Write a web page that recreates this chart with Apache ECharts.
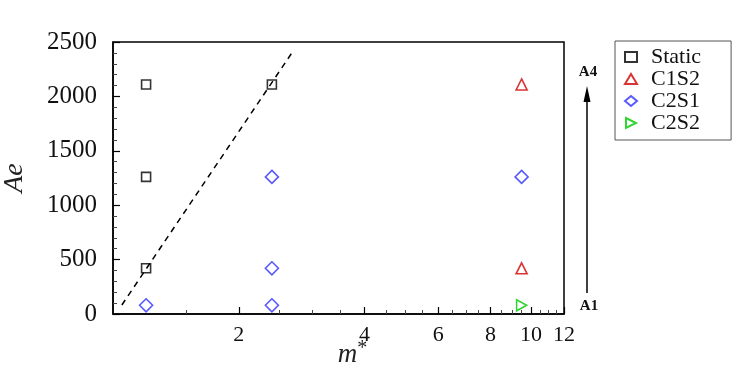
<!DOCTYPE html>
<html>
<head>
<meta charset="utf-8">
<script src="https://cdn.jsdelivr.net/npm/echarts@6/dist/echarts.min.js"></script>
<style>
html, body { margin: 0; padding: 0; background: #fff; }
#chart { width: 747px; height: 375px; }
</style>
</head>
<body>
<div id="chart"></div>
<script>
// model labels drawn above the plot, at their m* value
const models = ['M3', 'M4', 'M6']
const modelX = [1.2, 2.4, 9.5]

// (m*, Ae) points per response type
const staticPts = [[1.2, 2110], [1.2, 1260], [1.2, 420], [2.4, 2110]]
const c1s2Pts = [[9.5, 2110], [9.5, 420]]
const c2s1Pts = [[1.2, 80], [2.4, 1260], [2.4, 420], [2.4, 80], [9.5, 1260]]
const c2s2Pts = [[9.5, 80]]

// dashed DSS / DBS boundary
const boundary = [[1.05, 83], [2.69, 2410]]
const regionNames = ['DSS', 'DBS']
const regionPts = [[1.7, 1737], [5.44, 1737]]

// x axis ticks (log scale)
const xMajor = [2, 4, 6, 8, 10, 12]
const xMinor = [1.5, 2.5, 3, 3.5, 4.5, 5, 5.5, 6.5, 7, 7.5, 8.5, 9, 9.5, 10.5, 11, 11.5]

const FONT = 'Liberation Serif'
const chart = echarts.init(document.getElementById('chart'))

const hollow = (c) => ({ color: 'rgba(0,0,0,0)', borderColor: c, borderWidth: 1.6 })
// right-pointing triangle
const triRight = 'path://M0,0 L10,5 L0,10 Z'

const option = {
  animation: false,
  textStyle: { fontFamily: FONT },
  grid: {
    left: 113, top: 42, width: 451, height: 272,
    outerBoundsMode: 'none', containLabel: false,
    show: true, borderColor: '#000', borderWidth: 1.5, backgroundColor: 'transparent'
  },
  legend: {
    data: ['Static', 'C1S2', 'C2S1', 'C2S2'],
    orient: 'vertical',
    left: 615, top: 41,
    padding: [5, 30, 6, 9],
    itemGap: 0,
    itemWidth: 12, itemHeight: 10,
    borderColor: '#555', borderWidth: 1,
    textStyle: { fontFamily: FONT, fontSize: 22, color: '#111', lineHeight: 22, padding: [0, 0, 0, 9] }
  },
  xAxis: [
    {
      type: 'log', min: 1, max: 12,
      name: '{m|m}{s|*}',
      nameLocation: 'middle', nameGap: 25, nameMoveOverlap: false,
      nameTextStyle: {
        padding: [0, 0, 0, 28],
        rich: {
          m: { fontFamily: FONT, fontStyle: 'italic', fontSize: 27, color: '#222' },
          s: { fontFamily: FONT, fontSize: 20, color: '#222', padding: [0, 0, 12, 0] }
        }
      },
      axisLine: { lineStyle: { color: '#000', width: 1.5 } },
      axisTick: { customValues: xMajor, inside: true, length: 7, lineStyle: { color: '#000', width: 1.2 } },
      axisLabel: { customValues: xMajor, formatter: '{value}', fontSize: 22, color: '#111', margin: 10, fontFamily: FONT },
      minorTick: { show: false },
      splitLine: { show: false }
    },
    {
      type: 'log', min: 1, max: 12, position: 'bottom',
      axisLine: { show: false },
      axisLabel: { show: false },
      axisTick: { customValues: xMinor, inside: true, length: 4, lineStyle: { color: '#444', width: 1 } },
      minorTick: { show: false },
      splitLine: { show: false }
    }
  ],
  yAxis: {
    type: 'value', min: 0, max: 2500, interval: 500,
    name: 'Ae',
    nameLocation: 'middle', nameGap: 84, nameRotate: 90, nameMoveOverlap: false,
    nameTextStyle: { fontFamily: FONT, fontStyle: 'italic', fontSize: 28, color: '#222' },
    axisLine: { show: true, lineStyle: { color: '#000', width: 1.5 } },
    axisTick: { inside: true, length: 7, lineStyle: { color: '#000', width: 1.2 } },
    minorTick: { show: true, splitNumber: 5, length: 4, lineStyle: { color: '#444', width: 1 } },
    axisLabel: { fontSize: 25, color: '#111', margin: 16, fontFamily: FONT, formatter: v => String(v) },
    splitLine: { show: false }
  },
  series: [
    {
      name: 'boundary', type: 'line', data: boundary,
      symbol: 'none', silent: true,
      lineStyle: { color: '#000', width: 1.5, type: [6, 5] }
    },
    {
      name: 'Static', type: 'scatter', data: staticPts,
      symbol: 'rect', symbolSize: 9, itemStyle: hollow('#000')
    },
    {
      name: 'C1S2', type: 'scatter', data: c1s2Pts,
      symbol: 'triangle', symbolSize: 11, itemStyle: hollow('#d00000')
    },
    {
      name: 'C2S1', type: 'scatter', data: c2s1Pts,
      symbol: 'diamond', symbolSize: 13, itemStyle: hollow('#3030ff')
    },
    {
      name: 'C2S2', type: 'scatter', data: c2s2Pts,
      symbol: triRight, symbolSize: [10, 11], itemStyle: hollow('#00c800')
    },
    {
      name: 'models', type: 'scatter', silent: true,
      data: modelX.map(x => [x, 2500]),
      symbolSize: 1, itemStyle: { opacity: 0 },
      label: {
        show: true, position: 'top', distance: 17,
        formatter: p => models[p.dataIndex],
        fontFamily: FONT, fontWeight: 'bold', fontSize: 15, color: '#111'
      }
    },
    {
      name: 'regions', type: 'scatter', silent: true,
      data: regionPts,
      symbolSize: 1, itemStyle: { opacity: 0 },
      label: {
        show: true, position: 'inside',
        formatter: p => regionNames[p.dataIndex],
        fontFamily: FONT, fontSize: 21, color: '#333'
      }
    }
  ],
  graphic: [
    { type: 'line', shape: { x1: 587, y1: 293, x2: 587, y2: 100 }, style: { stroke: '#000', lineWidth: 1.5 } },
    { type: 'polygon', shape: { points: [[587, 86], [583.5, 102], [590.5, 102]] }, style: { fill: '#000' } },
    { type: 'text', x: 588, y: 72, style: { text: 'A4', font: 'bold 15px "Liberation Serif"', fill: '#111', align: 'center', verticalAlign: 'middle' } },
    { type: 'text', x: 589, y: 306, style: { text: 'A1', font: 'bold 15px "Liberation Serif"', fill: '#111', align: 'center', verticalAlign: 'middle' } }
  ]
}

chart.setOption(option)
</script>
</body>
</html>
